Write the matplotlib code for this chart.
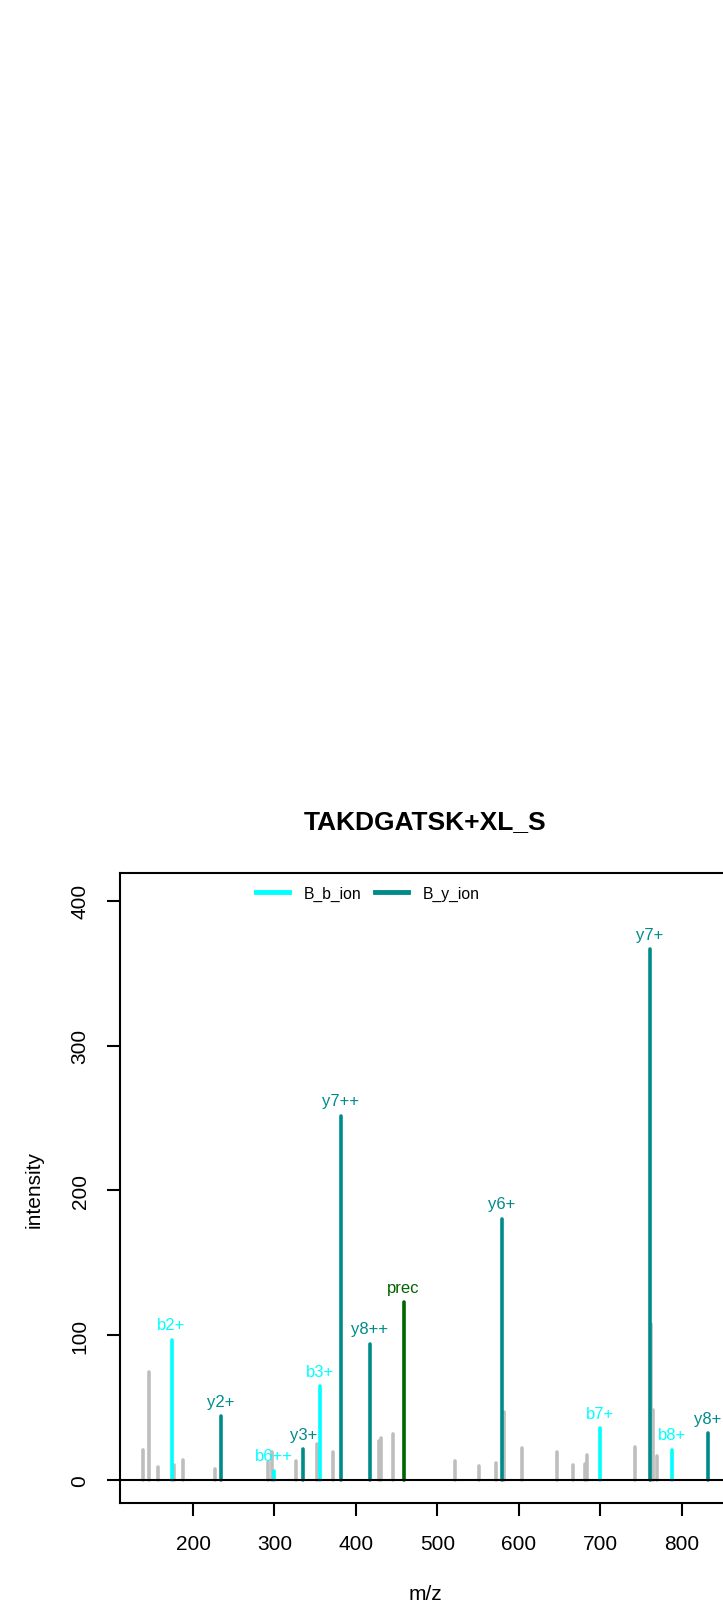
"""Annotated MS2 spectrum for TAKDGATSK+XL_S (R base-graphics look)."""

import matplotlib
matplotlib.use("Agg")
import matplotlib.pyplot as plt
import numpy as np

plt.rcParams["font.family"] = ["Liberation Sans", "DejaVu Sans"]

# ── Data ─────────────────────────────────────────────────────────────────────
TITLE = "TAKDGATSK+XL_S"

# unmatched peaks (grey)
other_mz = [138.1, 145.5, 157.4, 176.2, 187.7, 226.5, 292.0, 297.0, 325.9,
            352.2, 371.8, 427.8, 430.7, 446.2, 522.0, 551.0, 572.3, 582.0,
            603.8, 647.5, 666.4, 681.9, 684.4, 743.3, 763.0, 764.8, 769.5]
other_int = [20.9, 74.5, 8.7, 10.3, 13.6, 7.6, 12.4, 19.0, 13.1,
             24.8, 19.1, 27.1, 28.8, 31.7, 13.3, 9.9, 11.5, 47.0,
             21.9, 19.1, 10.6, 11.0, 17.5, 22.5, 108.0, 48.0, 16.3]

# matched fragment peaks
ion_labels = ["b2+", "y2+", "b6++", "y3+", "b3+", "y7++", "y8++", "prec",
              "y6+", "b7+", "y7+", "b8+", "y8+"]
ion_types = ["b", "y", "b", "y", "b", "y", "y", "prec",
             "y", "b", "y", "b", "y"]
ion_mz = [173.7, 234.1, 299.6, 335.4, 355.4, 381.2, 416.8, 458.5,
          579.3, 700.3, 761.3, 788.0, 832.1]
ion_int = [96.8, 44.2, 6.4, 21.4, 64.6, 251.7, 94.2, 122.8,
           180.5, 35.9, 366.5, 20.9, 32.4]

legend_labels = ["B_b_ion", "B_y_ion"]

# ── Style ────────────────────────────────────────────────────────────────────
_COLORS = {"b": "#00FFFF", "y": "#008B8B", "prec": "#006400"}
_GREY = "#BEBEBE"
_PEAK_LW = 2.6

fig = plt.figure(figsize=(7.23, 16.08), dpi=100)
ax = fig.add_axes([0.166, 0.0645, 0.8441, 0.392])

# grey peaks first, matched peaks on top
ax.vlines(other_mz, 0, other_int, color=_GREY, linewidth=_PEAK_LW,
          capstyle="round", zorder=2)
for lab, kind, mz, inten in zip(ion_labels, ion_types, ion_mz, ion_int):
    col = _COLORS[kind]
    ax.vlines(mz, 0, inten, color=col, linewidth=_PEAK_LW,
              capstyle="round", zorder=3)
    ax.annotate(lab, (mz, inten), xytext=(0, 7.5), textcoords="offset points",
                ha="center", va="baseline", color=col, fontsize=12, zorder=4)

ax.axhline(0, color="black", linewidth=1.5, zorder=5, clip_on=False)

# R-style limits: 4% padding around the data range
all_mz = np.array(other_mz + ion_mz)
span = all_mz.max() - all_mz.min()
ax.set_xlim(all_mz.min() - 0.04 * span, all_mz.max() + 0.04 * span)
ytop = 1.1 * max(ion_int)
ax.set_ylim(-0.04 * ytop, 1.04 * ytop)

ax.set_xticks(np.arange(200, 801, 100))
ax.set_yticks(np.arange(0, 401, 100))
ax.tick_params(direction="out", length=9.4, width=1.5, labelsize=15, pad=12.5)
for t in ax.get_yticklabels():
    t.set_rotation(90)
    t.set_va("center")
for sp in ax.spines.values():
    sp.set_linewidth(1.5)

ax.set_xlabel("m/z", fontsize=15)
ax.xaxis.set_label_coords(0.5, -0.1439)
ax.xaxis.label.set_va("center")
ax.set_ylabel("intensity", fontsize=15)
ax.yaxis.set_label_coords(-0.1413, 0.5)
ax.yaxis.label.set_va("center")

handles = [plt.Line2D([], [], color=_COLORS["b"], linewidth=3.5),
           plt.Line2D([], [], color=_COLORS["y"], linewidth=3.5)]
fig.legend(handles, legend_labels, loc="center left", ncol=2,
           bbox_to_anchor=(256 / 723, 1 - 894 / 1608), frameon=False,
           fontsize=11.3, handlelength=2.1, handletextpad=0.92,
           columnspacing=0.9, borderpad=0, borderaxespad=0)

fig.text(425 / 723, 1 - 822 / 1608, TITLE, ha="center", va="center",
         fontsize=19, fontweight="bold")

fig.savefig("out.png", dpi=100)
